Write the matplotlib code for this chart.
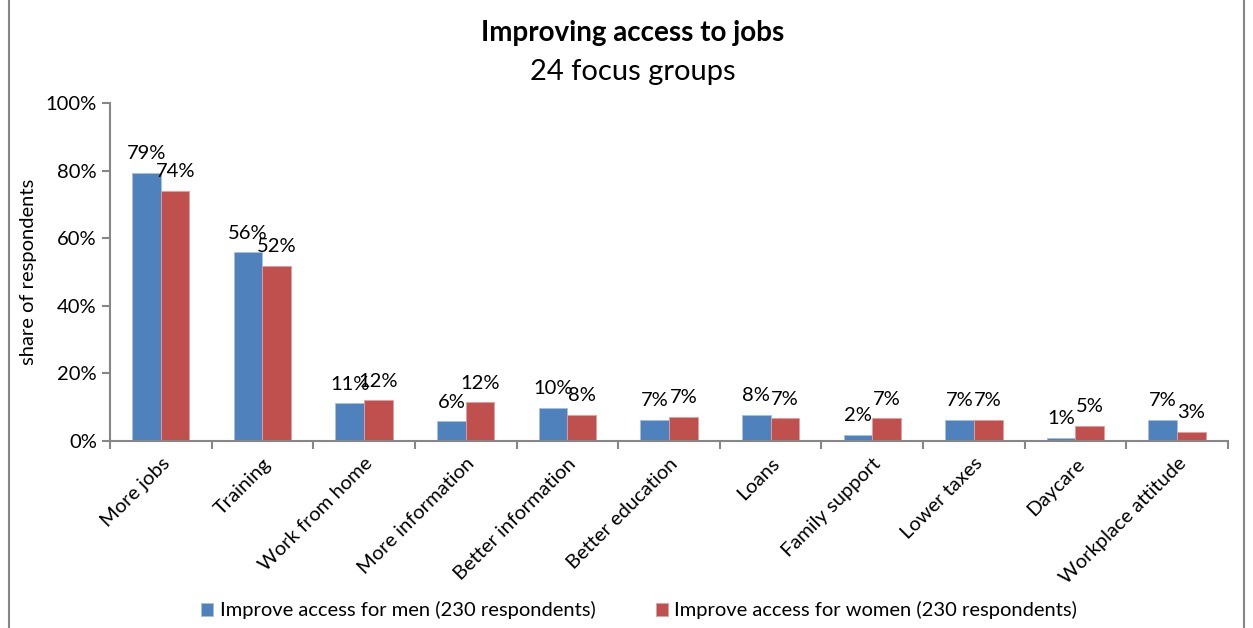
import numpy as np
import matplotlib.pyplot as plt
from matplotlib.patches import Rectangle

plt.rcParams['font.family'] = ['Lato', 'DejaVu Sans']

categories = ['More jobs', 'Training', 'Work from home', 'More information',
              'Better information', 'Better education', 'Loans', 'Family support',
              'Lower taxes', 'Daycare', 'Workplace attitude']
men = [79.3, 55.8, 11.1, 5.8, 9.8, 6.2, 7.6, 1.9, 6.2, 1.0, 6.2]
women = [74.0, 51.8, 12.0, 11.4, 7.6, 7.1, 6.7, 6.7, 6.2, 4.4, 2.8]
men_labels = ['79%', '56%', '11%', '6%', '10%', '7%', '8%', '2%', '7%', '1%', '7%']
women_labels = ['74%', '52%', '12%', '12%', '8%', '7%', '7%', '7%', '7%', '5%', '3%']
yticks = [0, 20, 40, 60, 80, 100]

blue = '#4f81bd'
red = '#c0504d'
grey = '#868686'
fs = 14.5

fig = plt.figure(figsize=(12.53, 6.28), dpi=100)
ax = fig.add_axes([0.0878, 0.2978, 0.8922, 0.5382])

x = np.arange(len(categories))
w = 0.282
b1 = ax.bar(x - w/2, men, w, color=blue, edgecolor='#a7c0de', linewidth=0.6,
            label='Improve access for men (230 respondents)')
b2 = ax.bar(x + w/2, women, w, color=red, edgecolor='#e0a09e', linewidth=0.6,
            label='Improve access for women (230 respondents)')

for xi, v, t in zip(x, men, men_labels):
    ax.text(xi - w/2, v + 3.2, t, ha='center', va='bottom', fontsize=fs)
for xi, v, t in zip(x, women, women_labels):
    ax.text(xi + w/2, v + 3.2, t, ha='center', va='bottom', fontsize=fs)

ax.set_xlim(-0.5, len(categories) - 0.5)
ax.set_ylim(0, 100)
ax.set_yticks(yticks)
ax.set_yticklabels([f'{t}%' for t in yticks], fontsize=fs)
ax.set_ylabel('share of respondents', fontsize=fs, labelpad=6)

ax.set_xticks(x)
ax.set_xticklabels(categories, rotation=45, ha='right', rotation_mode='anchor', fontsize=fs)
ax.tick_params(axis='x', length=0, pad=10)
ax.set_xticks(np.arange(-0.5, len(categories)), minor=True)
ax.tick_params(axis='x', which='minor', length=6, color=grey, width=1.5)
ax.tick_params(axis='y', length=6, color=grey, width=1.5)

for s in ['top', 'right']:
    ax.spines[s].set_visible(False)
for s in ['left', 'bottom']:
    ax.spines[s].set_color(grey)
    ax.spines[s].set_linewidth(1.5)

fig.text(0.505, 0.947, 'Improving access to jobs', ha='center', va='center',
         fontsize=20, fontweight='bold')
fig.text(0.505, 0.885, '24 focus groups', ha='center', va='center', fontsize=21)

fig.legend(handles=[b1, b2], loc='center', bbox_to_anchor=(0.51, 0.028), ncol=2,
           frameon=False, fontsize=fs, handlelength=0.6, handleheight=0.6,
           handletextpad=0.3, columnspacing=3)

fig.patches.append(Rectangle((0.007, -0.01), 0.986, 1.02, transform=fig.transFigure,
                             fill=False, edgecolor=grey, linewidth=1.5))

fig.savefig('out.png', dpi=100)
